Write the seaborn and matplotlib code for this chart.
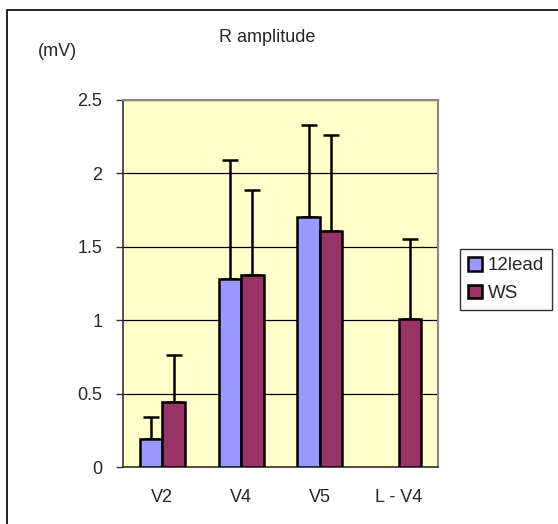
import pandas as pd
import numpy as np
import matplotlib
matplotlib.use("Agg")
import matplotlib.pyplot as plt
import seaborn as sns
from matplotlib.lines import Line2D

# values
leads = ["V2", "V4", "V5", "L-V4"]
mean_12lead = [0.19, 1.28, 1.70, np.nan]
sd_12lead = [0.15, 0.81, 0.63, np.nan]
mean_ws = [0.44, 1.31, 1.61, 1.01]
sd_ws = [0.32, 0.58, 0.65, 0.54]
tick_labels = ["V2", "V4", "V5", "L - V4"]
yticks = [0, 0.5, 1, 1.5, 2, 2.5]

df = pd.DataFrame({
    "lead": leads * 2,
    "group": ["12lead"] * 4 + ["WS"] * 4,
    "value": mean_12lead + mean_ws,
})

sns.set_style("white")
plt.rcParams["font.family"] = ["Liberation Sans", "DejaVu Sans"]

fig = plt.figure(figsize=(5.58, 5.24), dpi=100)
ax = fig.add_axes([123 / 558, 1 - 467 / 524, 315 / 558, 367 / 524])
ax.set_facecolor("#FFFFCC")

sns.barplot(data=df, x="lead", y="value", hue="group", order=leads,
            hue_order=["12lead", "WS"], palette=["#9999FF", "#993366"],
            saturation=1, width=0.57, edgecolor="black", linewidth=1.8,
            errorbar=None, ax=ax, zorder=3)

# upper-only error bars, placed at each bar's centre
containers = ax.containers
for cont, means, sds in zip(containers, [mean_12lead, mean_ws], [sd_12lead, sd_ws]):
    for bar, m, s in zip(cont, means, sds):
        if np.isnan(m):
            continue
        xc = bar.get_x() + bar.get_width() / 2
        ax.errorbar(xc, m, yerr=[[0], [s]], fmt="none", ecolor="black",
                    elinewidth=1.8, capsize=6, capthick=1.8, zorder=2)

ax.set_ylim(0, 2.5)
ax.set_xlim(-0.5, 3.5)
ax.set_yticks(yticks)
ax.set_yticklabels(["0", "0.5", "1", "1.5", "2", "2.5"], fontsize=13)
ax.set_xticks(range(4))
ax.set_xticklabels(tick_labels, fontsize=13)
ax.set_xticks([0.5, 1.5, 2.5], minor=True)
ax.tick_params(axis="x", which="major", length=0, pad=16)
ax.tick_params(axis="x", which="minor", direction="in", length=5, width=1, color="#333333")
ax.tick_params(axis="y", direction="out", length=5, width=1, color="#333333", pad=10, left=True)
ax.yaxis.grid(True, color="black", linewidth=0.9)
ax.set_axisbelow(True)
ax.set_xlabel("")
ax.set_ylabel("")
for side in ["top", "right"]:
    ax.spines[side].set_color("#888888")
    ax.spines[side].set_linewidth(1.5)
for side in ["left", "bottom"]:
    ax.spines[side].set_color("#333333")
    ax.spines[side].set_linewidth(1.2)

leg = ax.legend(loc="upper left", bbox_to_anchor=(460 / 558, 1 - 249 / 524),
                bbox_transform=fig.transFigure, frameon=True, fancybox=False,
                fontsize=13.5, handlelength=0.75, handleheight=0.75, handletextpad=0.3,
                borderpad=0.42, labelspacing=0.55, borderaxespad=0)
leg.get_frame().set_edgecolor("black")
leg.get_frame().set_linewidth(1.0)
for h in leg.legend_handles:
    h.set_edgecolor("black")
    h.set_linewidth(1.8)

fig.text(267 / 558, 1 - 38 / 524, "R amplitude", ha="center", va="center", fontsize=13)
fig.text(57 / 558, 1 - 52 / 524, "(mV)", ha="center", va="center", fontsize=13)

# outer chart frame (only top and left edges are visible in the reference)
fig.add_artist(Line2D([7 / 558, 7 / 558], [0, 1 - 10 / 524], color="black", linewidth=1.2))
fig.add_artist(Line2D([7 / 558, 1], [1 - 10 / 524, 1 - 10 / 524], color="black", linewidth=1.2))

fig.savefig("out.png", dpi=100)
